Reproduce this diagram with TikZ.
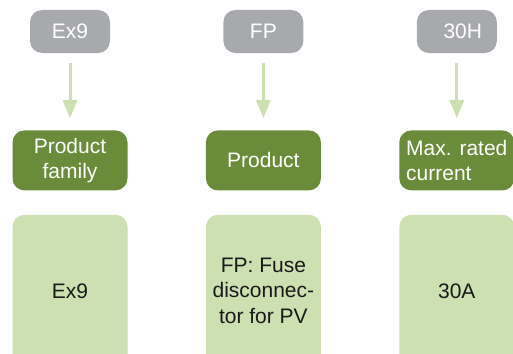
\documentclass[tikz,border=0pt]{standalone}
\usepackage{fontspec}
\setmainfont{Liberation Sans}
\usetikzlibrary{positioning,arrows.meta}
\definecolor{codegrey}{RGB}{167,169,172}
\definecolor{fielddark}{RGB}{106,140,58}
\definecolor{valuelight}{RGB}{205,224,177}
\tikzset{
  box/.style={rounded corners=12pt, inner sep=0pt, align=center, font=\fontsize{21}{25.5}\selectfont},
  codebox/.style={box, fill=codegrey, text=white, minimum width=80pt, minimum height=43pt},
  fieldbox/.style={box, fill=fielddark, text=white, minimum width=115pt, minimum height=60pt},
  valuebox/.style={box, fill=valuelight, text=black!90, minimum width=115pt, minimum height=152pt},
  link/.style={draw=valuelight, line width=3pt, -{Triangle[length=18pt,width=14pt]}, shorten <=10pt, shorten >=12pt}
}
\begin{document}
\begin{tikzpicture}[x=1pt, y=-1pt, node distance=77pt and 113pt]
    \useasboundingbox (0,0) rectangle (513,353);
    \clip (0,0) rectangle (513,353);
    \node [codebox] at (70,31.5) (code1) {Ex9};
    \node [codebox, right=of code1] (code2) {FP};
    \node [codebox, right=of code2] (code3) {\kern12pt 30H};

    \node [fieldbox, below=of code1] (field1) {Product\\family};
    \node [fieldbox, below=of code2] (field2) {Product};
    \node [fieldbox, below=of code3, align=left] (field3) {Max. rated\\current};

    \node [valuebox, below=24pt of field1] (value1) {Ex9};
    \node [valuebox, below=24pt of field2] (value2) {FP: Fuse\\disconnec-\\tor for PV};
    \node [valuebox, below=24pt of field3] (value3) {30A};

    \foreach \i in {1,2,3}
      \draw [link] (code\i) -- (field\i);
  \end{tikzpicture}
\end{document}
